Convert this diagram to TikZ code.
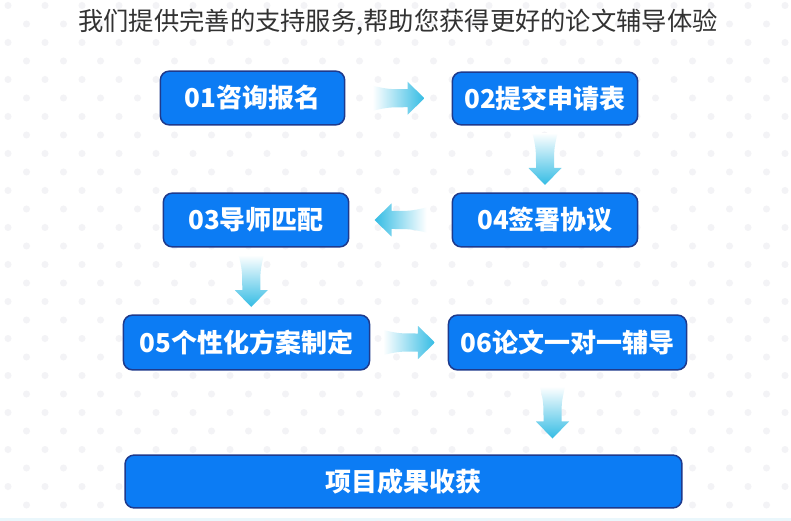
\documentclass[tikz,border=0pt]{standalone}
\usepackage{fontspec}
\newfontfamily\cjk{Noto Sans CJK SC}
\usetikzlibrary{calc}
\definecolor{boxblue}{RGB}{12,124,244}
\definecolor{boxedge}{RGB}{30,58,140}
\definecolor{arrowcyan}{RGB}{52,188,228}
\definecolor{dotgrey}{RGB}{243,243,246}
\definecolor{titlegrey}{RGB}{50,50,50}
\definecolor{stripcyan}{RGB}{234,247,252}
\tikzset{
  stepbox/.style={draw=boxedge, line width=1.5bp, fill=boxblue, rounded corners=9bp,
    text=white, font=\cjk\bfseries\fontsize{26bp}{30bp}\selectfont, inner sep=0pt},
  arrowR/.style={left color=white, right color=arrowcyan},
  arrowL/.style={left color=arrowcyan, right color=white},
  arrowD/.style={top color=white, bottom color=arrowcyan},
  fatarrow/.pic={
    \path[pic actions] (-26,12.5) .. controls (-10,9) .. (9,9) -- (9,16.5) -- (26,0)
      -- (9,-16.5) -- (9,-9) .. controls (-10,-9) .. (-26,-12.5) -- cycle;
  }
}
\begin{document}
\begin{tikzpicture}[x=1bp,y=-1bp]
\useasboundingbox (0,0) rectangle (791,521);
\fill[white] (0,0) rectangle (791,521);
\fill[stripcyan] (0,518) rectangle (791,521);

\foreach \r in {0,...,28}{
  \pgfmathsetmacro{\yy}{5.5+18.5*\r}
  \pgfmathsetmacro{\xo}{mod(\r,2)==0 ? 8 : 26.5}
  \foreach \c in {0,...,21}{
    \fill[dotgrey] (\xo+37*\c,\yy) circle (3.5);
  }
}

\node[text=titlegrey, font=\cjk\fontsize{25.3bp}{29bp}\selectfont] (T) at (398,22) {我们提供完善的支持服务,帮助您获得更好的论文辅导体验};

\node[stepbox, minimum width=185, minimum height=54] (S1) at (252.5,98) {01咨询报名};
\node[stepbox, minimum width=186, minimum height=53] (S2) at (545,98.5) {02提交申请表};
\node[stepbox, minimum width=186, minimum height=54] (S3) at (256,220) {03导师匹配};
\node[stepbox, minimum width=186, minimum height=54] (S4) at (545,220) {04签署协议};
\node[stepbox, minimum width=247, minimum height=55] (S5) at (246.5,342.5) {05个性化方案制定};
\node[stepbox, minimum width=239, minimum height=55] (S6) at (567.5,342.5) {06论文一对一辅导};
\node[stepbox, minimum width=559, minimum height=53] (S7) at (403.5,481.5) {项目成果收获};

\pic[arrowR] at ($(S1.east)!0.5!(S2.west)$) {fatarrow};
\pic[arrowD, rotate=-90] at ($(S2.south)!0.5!(S4.north)$) {fatarrow};
\pic[arrowL, rotate=180] at ($(S4.west)!0.5!(S3.east)$) {fatarrow};
\pic[arrowD, rotate=-90] at ($(S3.south)!0.5!(S5.north)$) {fatarrow};
\pic[arrowR] at ($(S5.east)!0.5!(S6.west)$) {fatarrow};
\pic[arrowD, xshift=-15bp, rotate=-90] at ($(S6.south)!0.5!(S6.south |- S7.north)$) {fatarrow};

\end{tikzpicture}
\end{document}
